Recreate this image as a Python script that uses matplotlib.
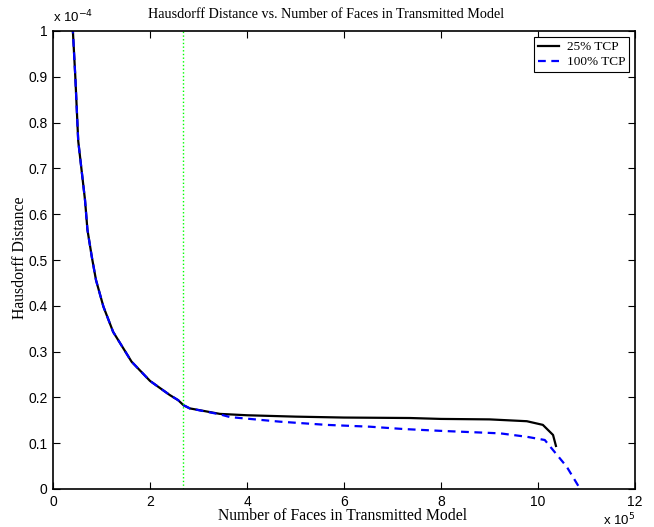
import numpy as np
import matplotlib.pyplot as plt

# faces in units of 1e5, distance in units of 1e-4
faces_25 = [0.38, 0.41, 0.46, 0.52, 0.66, 0.71, 0.80, 0.887, 1.04, 1.24, 1.62, 2.0,
            2.41, 2.58, 2.69, 2.82, 3.44, 4.0, 5.0, 6.0, 7.36, 8.0, 9.0, 9.77,
            10.1, 10.31, 10.37]
hd_25 = [1.08, 1.0, 0.9, 0.76, 0.631, 0.566, 0.507, 0.456, 0.398, 0.343, 0.278, 0.236,
         0.205, 0.194, 0.183, 0.176, 0.164, 0.161, 0.158, 0.156, 0.155, 0.153, 0.152, 0.148,
         0.140, 0.118, 0.094]

faces_100 = [0.38, 0.41, 0.46, 0.52, 0.66, 0.71, 0.80, 0.887, 1.04, 1.24, 1.62, 2.0,
             2.41, 2.58, 2.69, 2.82, 3.44, 3.65, 4.68, 5.64, 6.54, 7.22, 7.98, 9.22,
             9.77, 10.14, 10.31, 10.59, 10.87]
hd_100 = [1.08, 1.0, 0.9, 0.76, 0.631, 0.566, 0.507, 0.456, 0.398, 0.343, 0.278, 0.236,
          0.205, 0.194, 0.183, 0.176, 0.163, 0.157, 0.147, 0.140, 0.136, 0.131, 0.127, 0.1215,
          0.114, 0.107, 0.085, 0.049, 0.0]

marker_faces = 2.69

serif = 'Liberation Serif'
sans = 'Liberation Sans'
W, H = 654, 527

fig = plt.figure(figsize=(6.54, 5.27), dpi=100)
ax = fig.add_axes([53 / W, 38 / H, 582 / W, 458 / H])

ax.plot(faces_25, hd_25, color='black', lw=1.6, label='25% TCP')
ax.plot(faces_100, hd_100, color='blue', lw=1.6, ls='--', dashes=(3.5, 2.5), label='100% TCP')
ax.plot([marker_faces, marker_faces], [0, 1], color=(0, 1, 0), lw=1, ls=':')

ax.set_xlim(0, 12)
ax.set_ylim(0, 1)
ax.set_xticks(np.arange(0, 13, 2))
ax.set_yticks(np.round(np.arange(0, 1.01, 0.1), 1))
ax.set_xticklabels([str(v) for v in range(0, 13, 2)])
ax.set_yticklabels(['0'] + ['%.1f' % v for v in np.arange(0.1, 0.95, 0.1)] + ['1'])
ax.tick_params(direction='in', top=True, right=True, length=5, width=0.8,
               labelsize=10, pad=4)
for lbl in ax.get_xticklabels() + ax.get_yticklabels():
    lbl.set_fontfamily(sans)
for s in ax.spines.values():
    s.set_linewidth(1.2)

fig.text(326 / W, 1 - 14 / H, 'Hausdorff Distance vs. Number of Faces in Transmitted Model',
         fontfamily=serif, fontsize=10.2, ha='center', va='center')
fig.text(343 / W, 1 - 516 / H, 'Number of Faces in Transmitted Model',
         fontfamily=serif, fontsize=11.3, ha='center', va='center')
fig.text(20 / W, 1 - 258 / H, 'Hausdorff Distance', fontfamily=serif, fontsize=11.3,
         rotation=90, ha='center', va='center')

fig.text(53 / W, 1 - 22 / H, r'x 10$^{-4}$', fontfamily=sans, fontsize=9.5,
         ha='left', va='baseline')
fig.text(635 / W, 1 - 525 / H, r'x 10$^{5}$', fontfamily=sans, fontsize=9.5,
         ha='right', va='baseline')

leg = ax.legend(loc='upper right', prop={'family': serif, 'size': 9.5},
                fancybox=False, framealpha=1, edgecolor='black',
                borderpad=0.3, labelspacing=0.22, handlelength=1.6,
                handletextpad=0.55, borderaxespad=0.45)
leg.get_frame().set_linewidth(0.8)

fig.savefig('out.png', dpi=100)
